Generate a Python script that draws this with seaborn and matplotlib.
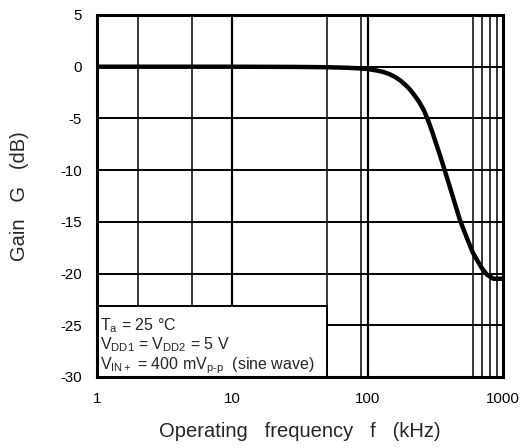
import numpy as np
import pandas as pd
import seaborn as sns
import matplotlib.pyplot as plt
from matplotlib.patches import Rectangle

# frequency response (kHz, dB)
freq_khz = [1, 10, 30, 50, 70, 90, 100, 115, 130, 145, 160, 175, 190, 205, 220, 240, 260, 280, 300,
            345, 400, 480, 550, 600, 650, 700, 760, 850, 1000]
gain_db = [0, 0, -0.02, -0.05, -0.1, -0.17, -0.22, -0.35, -0.5, -0.72, -1.0, -1.35, -1.75, -2.2, -2.7,
           -3.4, -4.2, -5.2, -6.3, -8.7, -11.4, -14.8, -16.8, -18.0, -18.8, -19.5, -20.1, -20.5, -20.5]

x_ticks = [1, 10, 100, 1000]
y_ticks = [5, 0, -5, -10, -15, -20, -25, -30]
x_grid = [2, 5, 10, 50, 90, 100, 600, 700, 800, 900]
y_grid = [0, -5, -10, -15, -20, -25]

note_lines = [
    r"T$_\mathregular{a}$ = 25 °C",
    r"V$_\mathregular{DD1}$ = V$_\mathregular{DD2}$ = 5 V",
    r"V$_\mathregular{IN+}$ = 400 mV$_\mathregular{p‐p}$  (sine wave)",
]
# condition box covers lower-left corner: x from 1 to 50 kHz, y below -23.1 dB
box_x = (1, 50)
box_top = -23.1

sns.set_style("white")
plt.rcParams['font.family'] = ['Liberation Sans', 'DejaVu Sans']
plt.rcParams['mathtext.fontset'] = 'custom'
plt.rcParams['mathtext.rm'] = 'Liberation Sans'
plt.rcParams['mathtext.it'] = 'Liberation Sans:italic'

df = pd.DataFrame({'f': freq_khz, 'G': gain_db})

fig = plt.figure(figsize=(5.2, 4.48), dpi=100)
ax = fig.add_axes([97 / 520, 71 / 448, 406 / 520, 362 / 448])

# grid
for xv in x_grid:
    lw = 1.6 if xv in (10, 100) else 1.1
    ax.axvline(xv, color='black', lw=lw, zorder=1)
for yv in y_grid:
    ax.axhline(yv, color='black', lw=1.4, zorder=1)

# condition box
ax.add_patch(Rectangle((box_x[0], -30), box_x[1] - box_x[0], box_top + 30,
                       facecolor='white', edgecolor='black', lw=1.4, zorder=2))
sns.lineplot(data=df, x='f', y='G', ax=ax, color='black', lw=3.2, zorder=3)

ax.set_xscale('log')
ax.set_xlim(1, 1000)
ax.set_ylim(-30, 5)
ax.set_xticks(x_ticks)
ax.set_xticklabels([str(t) for t in x_ticks])
ax.set_yticks(y_ticks)
ax.set_yticklabels([str(t) for t in y_ticks])
ax.minorticks_off()
ax.tick_params(axis='both', length=0, labelsize=10.8, colors='black')
ax.tick_params(axis='y', pad=11)
ax.tick_params(axis='x', pad=11)

for s in ax.spines.values():
    s.set_visible(True)
    s.set_color('black')
    s.set_linewidth(2.2)
    s.set_zorder(4)

ax.set_xlabel("Operating   frequency   f   (kHz)", fontsize=14.5, labelpad=11)
ax.set_ylabel("Gain   G   (dB)", fontsize=14.5, labelpad=22)

ys = [0.141, 0.088, 0.030]
for txt, yy in zip(note_lines, ys):
    ax.text(0.008, yy, txt, transform=ax.transAxes, fontsize=11.5, va='center', ha='left', zorder=5)

fig.savefig('out.png', dpi=100)
